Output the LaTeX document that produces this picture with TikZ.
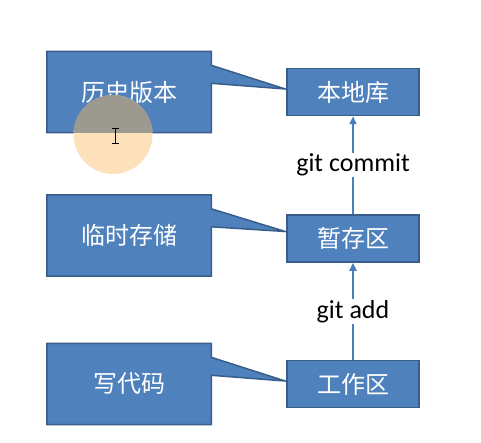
\documentclass[tikz,border=0pt]{standalone}
\usepackage{fontspec}
\newfontfamily\cjk{Noto Sans CJK SC}
\newfontfamily\gitfont{Carlito}
\usetikzlibrary{arrows.meta,positioning,backgrounds,calc}
\definecolor{gitfill}{RGB}{79,129,189}
\definecolor{gitline}{RGB}{56,93,138}
\definecolor{gitarrow}{RGB}{74,126,187}
\definecolor{hlorange}{RGB}{253,225,186}
\definecolor{hlgray}{RGB}{124,130,128}
\tikzset{
  areabox/.style={draw=gitline,fill=gitfill,line width=1.5pt,text=white,
                  font=\cjk\fontsize{24}{28}\selectfont,
                  minimum width=132pt,minimum height=47pt,inner sep=0pt},
  note/.style={text=white,font=\cjk\fontsize{24}{28}\selectfont,
               minimum width=164pt,minimum height=81pt,inner sep=0pt},
  notebg/.style={draw=gitline,fill=gitfill,line width=1.5pt,line join=miter},
  cmd/.style={fill=white,text=black,font=\gitfont\fontsize{26}{30}\selectfont,inner sep=1pt},
  flow/.style={-{Triangle[length=8pt,width=7pt]},draw=gitarrow,line width=2.2pt},
}
\begin{document}
\begin{tikzpicture}[x=1pt,y=-1pt]
\useasboundingbox (0,0) rectangle (481,443);
% --- git areas ---
\node[areabox] (repo) at (353,92) {本地库};
\node[areabox,below=98pt of repo] (stage) {暂存区};
\node[areabox,below=97pt of stage] (work) {工作区};
% --- notes ---
\node[note,left=75pt of repo] (hist) {历史版本};
\node[note,left=75pt of stage,yshift=3pt] (temp) {临时存储};
\node[note,left=75pt of work] (code) {写代码};
\begin{scope}[on background layer]
\foreach \n/\t/\lift in {hist/repo/3pt,temp/stage/7pt,code/work/3pt}
  \draw[notebg] (\n.north west) -- (\n.north east) -- ([yshift=-14pt]\n.north east)
    -- ([xshift=-1pt,yshift=\lift]\t.west) -- ([yshift=-32pt]\n.north east)
    -- (\n.south east) -- (\n.south west) -- cycle;
\end{scope}
% commands
\draw[flow] (stage) -- (repo) node[midway,cmd] (commit) {git commit};
\draw[flow] (work) -- (stage) node[midway,cmd] (add) {git add};
% cursor highlight
\fill[hlorange] (113,134.5) circle[radius=39.5pt];
\begin{scope}
\clip (hist.north west) rectangle (hist.south east);
\fill[hlgray,opacity=0.75] (113,134.5) circle[radius=39.5pt];
\end{scope}
\draw[black,line width=0.8pt] (112,128) -- (119,128) (115.5,128) -- (115.5,143) (112,143) -- (119,143);
\end{tikzpicture}
\end{document}
